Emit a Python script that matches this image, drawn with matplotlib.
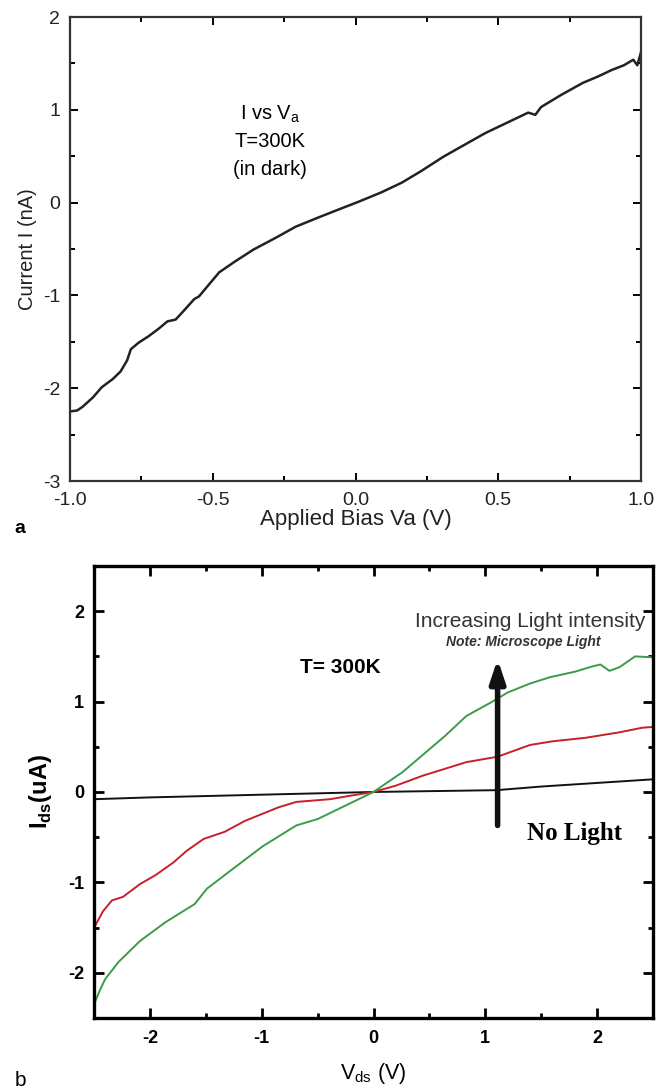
import matplotlib
matplotlib.use("Agg")
import matplotlib.pyplot as plt
from matplotlib.ticker import MultipleLocator, FormatStrFormatter

plt.rcParams['font.family'] = ['Liberation Sans', 'DejaVu Sans']
plt.rcParams['axes.unicode_minus'] = False

# panel a: I vs Va in dark
va = [-1.0, -0.975, -0.956, -0.92, -0.889, -0.85, -0.823, -0.80, -0.787, -0.76,
      -0.725, -0.69, -0.659, -0.63, -0.60, -0.565, -0.548, -0.51, -0.477, -0.42,
      -0.357, -0.28, -0.21, -0.13, -0.06, 0.011, 0.09, 0.162, 0.23, 0.308, 0.38,
      0.455, 0.53, 0.605, 0.63, 0.65, 0.72, 0.796, 0.85, 0.898, 0.94, 0.973, 0.987, 1.0]
ia = [-2.25, -2.24, -2.20, -2.10, -1.99, -1.90, -1.82, -1.70, -1.58, -1.51,
      -1.44, -1.36, -1.28, -1.26, -1.16, -1.04, -1.01, -0.87, -0.75, -0.63,
      -0.505, -0.38, -0.26, -0.16, -0.075, 0.01, 0.11, 0.215, 0.34, 0.495, 0.62,
      0.75, 0.86, 0.97, 0.946, 1.03, 1.16, 1.29, 1.36, 1.43, 1.48, 1.54, 1.48, 1.62]

# panel b: Ids vs Vds under light
vb_dark = [-2.5, -2.0, -1.0, 0.0, 1.1, 1.5, 2.0, 2.5]
ib_dark = [-0.08, -0.06, -0.03, 0.0, 0.02, 0.06, 0.10, 0.14]

vb_red = [-2.49, -2.42, -2.34, -2.24, -2.09, -1.95, -1.79, -1.67, -1.52, -1.33,
          -1.15, -1.07, -0.85, -0.69, -0.39, -0.2, 0.0, 0.2, 0.44, 0.83, 1.11,
          1.4, 1.6, 1.9, 2.2, 2.4, 2.5]
ib_red = [-1.48, -1.32, -1.2, -1.16, -1.02, -0.92, -0.78, -0.65, -0.52, -0.44,
          -0.32, -0.28, -0.17, -0.11, -0.08, -0.04, 0.0, 0.07, 0.18, 0.33, 0.39,
          0.52, 0.56, 0.60, 0.66, 0.71, 0.72]

vb_green = [-2.49, -2.45, -2.4, -2.28, -2.09, -1.86, -1.6, -1.49, -1.3, -0.99,
            -0.69, -0.5, -0.25, 0.0, 0.26, 0.45, 0.64, 0.83, 1.05, 1.2, 1.4,
            1.58, 1.8, 1.96, 2.03, 2.11, 2.2, 2.34, 2.49]
ib_green = [-2.32, -2.2, -2.07, -1.88, -1.65, -1.44, -1.24, -1.07, -0.89, -0.6,
            -0.37, -0.3, -0.15, 0.0, 0.22, 0.42, 0.62, 0.84, 0.99, 1.1, 1.2,
            1.27, 1.33, 1.39, 1.41, 1.34, 1.38, 1.5, 1.49]

fig = plt.figure(figsize=(6.63, 10.92), dpi=100)

# ---- panel a
ax1 = fig.add_axes([0.1056, 0.5595, 0.8612, 0.4249])
ax1.plot(va, ia, color='#222222', lw=1.8)
ax1.set_xlim(-1.0, 1.0)
ax1.set_ylim(-3, 2)
ax1.xaxis.set_major_locator(MultipleLocator(0.5))
ax1.xaxis.set_minor_locator(MultipleLocator(0.25))
ax1.yaxis.set_major_locator(MultipleLocator(1))
ax1.yaxis.set_minor_locator(MultipleLocator(0.5))
ax1.xaxis.set_major_formatter(FormatStrFormatter('%.1f'))
ax1.tick_params(which='both', direction='in', top=True, right=True,
                width=1.4, labelsize=14, labelcolor='#222222')
ax1.tick_params(which='major', length=6)
ax1.tick_params(which='minor', length=3.5)
ax1.tick_params(axis='x', pad=8)
ax1.tick_params(axis='y', pad=7)
for s in ax1.spines.values():
    s.set_linewidth(1.6)
    s.set_color('#333333')
ax1.set_xlabel('Applied Bias Va (V)', fontsize=16, labelpad=0, color='#222222')
ax1.set_ylabel('Current I (nA)', fontsize=14.5, labelpad=4, color='#222222')
ax1.text(-0.30, 0.95, 'I vs V$_{\\mathregular{a}}$', ha='center', va='center', fontsize=14.5)
ax1.text(-0.30, 0.66, 'T=300K', ha='center', va='center', fontsize=14.5)
ax1.text(-0.30, 0.355, '(in dark)', ha='center', va='center', fontsize=14.5)
fig.text(0.022, 0.516, 'a', fontsize=14, fontweight='bold', va='center')

# ---- panel b
ax2 = fig.add_axes([0.1418, 0.0678, 0.8431, 0.4139])
ax2.plot(vb_dark, ib_dark, color='#111111', lw=1.4)
ax2.plot(vb_red, ib_red, color='#c8202a', lw=1.4)
ax2.plot(vb_green, ib_green, color='#3c9a4c', lw=1.4)
ax2.set_xlim(-2.5, 2.5)
ax2.set_ylim(-2.5, 2.5)
ax2.xaxis.set_major_locator(MultipleLocator(1))
ax2.xaxis.set_minor_locator(MultipleLocator(0.5))
ax2.yaxis.set_major_locator(MultipleLocator(1))
ax2.yaxis.set_minor_locator(MultipleLocator(0.5))
ax2.tick_params(which='both', direction='in', top=True, right=True,
                width=2, labelsize=13)
ax2.tick_params(which='major', length=7)
ax2.tick_params(which='minor', length=3.5)
ax2.tick_params(axis='x', pad=9)
ax2.tick_params(axis='y', pad=7)
for lab in ax2.get_xticklabels() + ax2.get_yticklabels():
    lab.set_fontweight('bold')
for s in ax2.spines.values():
    s.set_linewidth(2.4)
ax2.set_xlabel('V$_{\\mathregular{ds}}$ (V)', fontsize=15.5, labelpad=10)
ax2.set_ylabel('I$_{\\mathregular{ds}}$(uA)', fontsize=17, fontweight='bold', labelpad=10)

ax2.annotate('', xy=(1.11, 1.47), xytext=(1.11, -0.37),
             arrowprops=dict(arrowstyle='-|>,head_length=0.9,head_width=0.3',
                             color='#111111', lw=4, mutation_scale=15,
                             shrinkA=0, shrinkB=0))
ax2.text(2.43, 1.89, 'Increasing Light intensity', ha='right', va='center',
         fontsize=15, color='#333333')
ax2.text(1.34, 1.66, 'Note: Microscope Light', ha='center', va='center',
         fontsize=10, fontweight='bold', style='italic', color='#333333')
ax2.text(-0.3, 1.38, 'T= 300K', ha='center', va='center', fontsize=15,
         fontweight='bold')
ax2.text(1.8, -0.46, 'No Light', ha='center', va='center', fontsize=18,
         fontweight='bold', family=['Liberation Serif', 'DejaVu Serif'])
fig.text(0.022, 0.002, 'b', fontsize=15, va='bottom')

fig.savefig('out.png', dpi=100)
